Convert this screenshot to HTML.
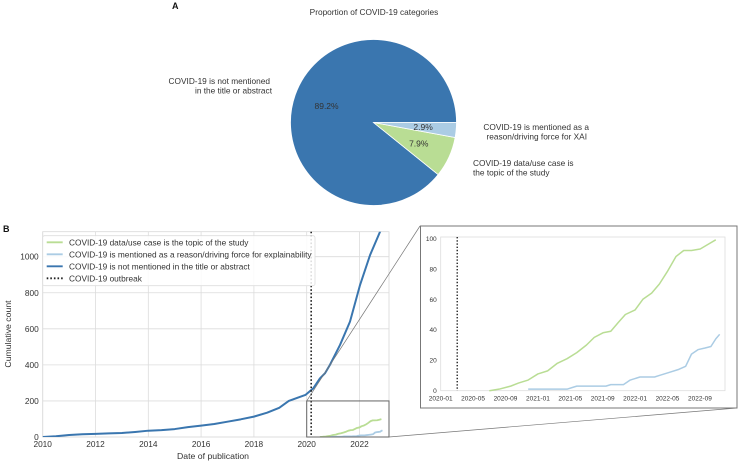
<!DOCTYPE html>
<html><head><meta charset="utf-8"><style>
body{margin:0;background:#fff;}
svg{display:block;font-family:"Liberation Sans",sans-serif;}
</style></head><body>
<svg id="fig" width="738" height="463" viewBox="0 0 738 463">
<text x="172" y="9" font-size="9" font-weight="bold" fill="#111">A</text>
<text x="374" y="15" font-size="8.3" fill="#333" text-anchor="middle">Proportion of COVID-19 categories</text>
<g id="pie"></g>
<text x="270" y="84" font-size="8.3" fill="#333" text-anchor="end"><tspan x="270">COVID-19 is not mentioned</tspan><tspan x="272" dy="9.5">in the title or abstract</tspan></text>
<text x="589" y="130" font-size="8.3" fill="#333" text-anchor="end"><tspan x="589">COVID-19 is mentioned as a</tspan><tspan x="587" dy="9.5">reason/driving force for XAI</tspan></text>
<text x="473" y="166" font-size="8.3" fill="#333"><tspan x="473">COVID-19 data/use case is</tspan><tspan x="473" dy="9.5">the topic of the study</tspan></text>
<text x="3" y="232" font-size="9" font-weight="bold" fill="#111">B</text>
<g id="main"></g>
<g id="inset"></g>
</svg>
<script>
const pieLabels = ["not mentioned","topic","reason"];
const pieValues = [89.2, 7.9, 2.9];
const pieColors = ["#3a76af","#b9dd94","#abcce4"];

const years = [2010,2010.5,2011,2011.5,2012,2012.5,2013,2013.5,2014,2014.5,2015,2015.5,2016,2016.5,2017,2017.5,2018,2018.5,2018.96,2019.32,2019.66,2019.95,2020.25,2020.5,2020.69,2020.88,2021.26,2021.64,2022.02,2022.4,2022.78,2022.9];
const notMentioned = [0,4,11,15,17,20,22,28,35,38,44,55,63,72,85,98,113,135,162,200,218,233,270,325,353,400,510,640,843,1009,1139,1180];
const topicYears = [2020.5,2020.6,2020.72,2020.8,2020.9,2021.0,2021.1,2021.2,2021.3,2021.4,2021.5,2021.58,2021.67,2021.75,2021.83,2021.9,2022.0,2022.08,2022.17,2022.25,2022.33,2022.42,2022.5,2022.58,2022.67,2022.75,2022.83];
const topicValues = [0,1,3,5,7,11,13,18,21,25,30,35,38,39,45,50,53,60,64,70,78,88,92,92,93,96,99];
const reasonYears = [2020.9,2021.3,2021.35,2021.4,2021.7,2021.75,2021.88,2021.95,2022.05,2022.2,2022.25,2022.35,2022.45,2022.52,2022.58,2022.65,2022.72,2022.78,2022.83,2022.87];
const reasonValues = [1,1,2,3,3,4,4,7,9,9,10,12,14,16,24,27,28,29,34,37];
const outbreakYear = 2020.17;
const mainYTicks = [0,200,400,600,800,1000];
const mainXTicks = [2010,2012,2014,2016,2018,2020,2022];
const insetYTicks = [0,20,40,60,80,100];
const insetXTicks = ["2020-01","2020-05","2020-09","2021-01","2021-05","2021-09","2022-01","2022-05","2022-09"];

const NS="http://www.w3.org/2000/svg";
function mk(tag,attrs,parent){const e=document.createElementNS(NS,tag);for(const k in attrs)e.setAttribute(k,attrs[k]);parent.appendChild(e);return e;}

// Pie
const pie=document.getElementById('pie');
const cx=373.5,cy=122.5,R=83;
let a0=0;const tot=pieValues.reduce((a,b)=>a+b,0);
pieValues.forEach((v,i)=>{
  const a1=a0+v/tot*2*Math.PI;
  const x0=cx+R*Math.cos(a0),y0=cy-R*Math.sin(a0),x1=cx+R*Math.cos(a1),y1=cy-R*Math.sin(a1);
  const large=(a1-a0)>Math.PI?1:0;
  const p=mk('path',{d:`M${cx},${cy} L${x0},${y0} A${R},${R} 0 ${large} 0 ${x1},${y1} Z`,fill:pieColors[i],stroke:'#fff','stroke-width':0.8},pie);
  
  
  const am=(a0+a1)/2, rr=0.6*R;
  const t=mk('text',{x:cx+rr*Math.cos(am),y:cy-rr*Math.sin(am)+3,'font-size':8.5,fill:'#333','text-anchor':'middle'},pie);
  t.textContent=v.toFixed(1)+'%';
  
  
  a0=a1;
});

// Main chart
const main=document.getElementById('main');
const L=42.7,Rr=389,T=231.7,B=437;
const xm=y=>L+(y-2010)*26.4;
const ym=v=>B-v*0.1803;
mk('rect',{x:L,y:T,width:Rr-L,height:B-T,fill:'#fff',stroke:'#d8d8d8','stroke-width':0.8},main);
mainYTicks.forEach(v=>{
  mk('line',{x1:L,x2:Rr,y1:ym(v),y2:ym(v),stroke:'#dcdcdc','stroke-width':0.8},main);
  const t=mk('text',{x:L-4,y:ym(v)+3,'font-size':8.3,fill:'#333','text-anchor':'end'},main);t.textContent=v;
  
  
});
mainXTicks.forEach(v=>{
  mk('line',{x1:xm(v),x2:xm(v),y1:T,y2:B,stroke:'#dcdcdc','stroke-width':0.8},main);
  const t=mk('text',{x:xm(v),y:B+10,'font-size':8.3,fill:'#333','text-anchor':'middle'},main);t.textContent=v;
  
  
});
mk('clipPath',{id:'mc'},main);
mk('rect',{x:L,y:T,width:Rr-L,height:B-T},document.getElementById('mc'));
function line(g,xs,vs,fx,fy,color,w,name,clip){
  const p=mk('polyline',{points:xs.map((x,i)=>fx(x)+','+fy(vs[i])).join(' '),fill:'none',stroke:color,'stroke-width':w,'stroke-linejoin':'round'},g);
  if(clip)p.setAttribute('clip-path','url(#'+clip+')');
  
  
}
line(main,topicYears,topicValues,xm,ym,'#b9dd94',1.8,'topic-line','mc');
line(main,reasonYears,reasonValues,xm,ym,'#abcce4',1.8,'reason-line','mc');
line(main,years,notMentioned,xm,ym,'#3a76af',2,'not-mentioned-line','mc');
let ol=mk('line',{x1:xm(outbreakYear),x2:xm(outbreakYear),y1:T,y2:B,stroke:'#222','stroke-width':1.6,'stroke-dasharray':'1.6,2'},main);


let zr=mk('rect',{x:xm(2020),y:ym(200),width:Rr-xm(2020),height:ym(0)-ym(200),fill:'none',stroke:'#666','stroke-width':1},main);


mk('line',{x1:xm(2020),y1:ym(200),x2:420,y2:226,stroke:'#777','stroke-width':0.7},main);
mk('line',{x1:Rr,y1:ym(0),x2:737,y2:408,stroke:'#777','stroke-width':0.7},main);
let yl=mk('text',{x:11,y:334,'font-size':8.7,fill:'#333','text-anchor':'middle',transform:'rotate(-90 11 334)'},main);
yl.textContent='Cumulative count';


let xl=mk('text',{x:213,y:459,'font-size':8.7,fill:'#333','text-anchor':'middle'},main);
xl.textContent='Date of publication';


// legend
const lg=mk('g',{},main);


mk('rect',{x:42.7,y:235.7,width:272.3,height:50,fill:'#fff','fill-opacity':0.85,stroke:'#ddd','stroke-width':0.8,rx:2},lg);
const legItems=[["COVID-19 data/use case is the topic of the study","#b9dd94",null],["COVID-19 is mentioned as a reason/driving force for explainability","#abcce4",null],["COVID-19 is not mentioned in the title or abstract","#3a76af",null],["COVID-19 outbreak","#222","1.6,2"]];
legItems.forEach((it,i)=>{
  const yy=242.3+i*12;
  const s=mk('line',{x1:46.7,x2:62.7,y1:yy,y2:yy,stroke:it[1],'stroke-width':1.8},lg);
  if(it[2])s.setAttribute('stroke-dasharray',it[2]);
  const t=mk('text',{x:69,y:yy+3,'font-size':8.3,fill:'#333'},lg);t.textContent=it[0];
  
  
});

// Inset
const ins=document.getElementById('inset');
mk('rect',{x:420.5,y:226,width:316.5,height:182,fill:'#fff',stroke:'#777','stroke-width':1},ins);
const iL=440.7,iR=725,iT=237,iB=390.7;
const mo=s=>{const [y,m]=s.split('-').map(Number);return y+(m-1)/12;};
const xi=y=>iL+(y-2020)*97.2;
const yi=v=>iB-v*1.524;
mk('rect',{x:iL,y:iT,width:iR-iL,height:iB-iT,fill:'#fff',stroke:'#ddd','stroke-width':0.8},ins);
insetYTicks.forEach(v=>{const t=mk('text',{x:iL-4,y:yi(v)+2.5,'font-size':6.5,fill:'#333','text-anchor':'end'},ins);t.textContent=v;
  
  });
insetXTicks.forEach(s=>{const t=mk('text',{x:xi(mo(s)),y:iB+10,'font-size':6.5,fill:'#333','text-anchor':'middle'},ins);t.textContent=s;
  
  });
line(ins,topicYears,topicValues,xi,yi,'#b9dd94',1.5,'inset-topic-line',null);
line(ins,reasonYears,reasonValues,xi,yi,'#abcce4',1.5,'inset-reason-line',null);
let io=mk('line',{x1:xi(outbreakYear),x2:xi(outbreakYear),y1:iT,y2:iB,stroke:'#222','stroke-width':1.4,'stroke-dasharray':'1.4,1.8'},ins);


</script>
</body></html>
